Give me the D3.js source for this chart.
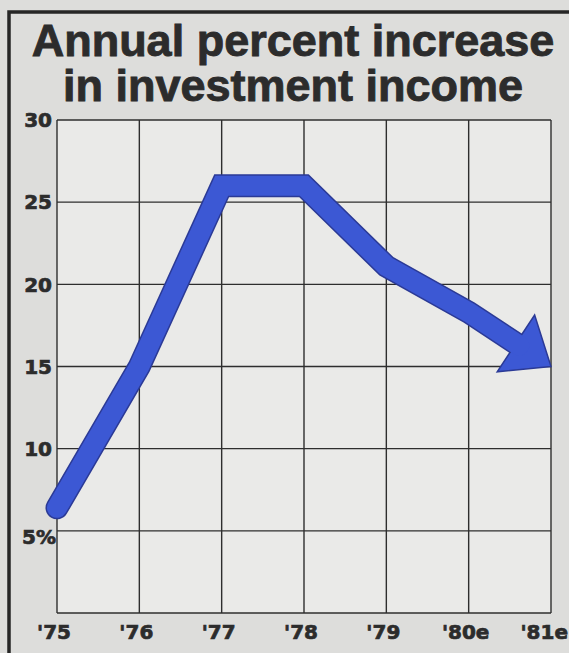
<!DOCTYPE html>
<html>
<head>
<meta charset="utf-8">
<script src="https://cdn.jsdelivr.net/npm/d3@7"></script>
<style>
  body { margin: 0; background: #dddddb; }
  svg { display: block; }
</style>
</head>
<body>
<svg id="chart" width="569" height="653"></svg>
<script>
// data
var years = ["'75", "'76", "'77", "'78", "'79", "'80e", "'81e"];
var increase = [6.4, 15, 26, 26, 21.1, 18.3, 15];
var yTicks = [5, 10, 15, 20, 25, 30];
var yTickLabels = ["5%", "10", "15", "20", "25", "30"];
var titleLines = ["Annual percent increase", "in investment income"];

var width = 569, height = 653;
var plot = { left: 57, right: 551, top: 120, bottom: 613 };

var svg = d3.select("#chart");

var x = d3.scalePoint()
  .domain(years)
  .range([plot.left, plot.right]);

var y = d3.scaleLinear()
  .domain([0, 30])
  .range([plot.bottom, plot.top]);

// panel border (top + left)
svg.append("rect")
  .attr("x", 0).attr("y", 0)
  .attr("width", width).attr("height", height)
  .attr("fill", "#dddddb");
svg.append("path")
  .attr("d", "M9," + height + "V12H" + width)
  .attr("fill", "none")
  .attr("stroke", "#262626")
  .attr("stroke-width", 3.5);

// title
svg.append("g")
  .selectAll("text")
  .data(titleLines)
  .enter()
  .append("text")
  .attr("x", 293)
  .attr("y", (d, i) => 56 + i * 45)
  .attr("text-anchor", "middle")
  .style("font-family", "'Liberation Sans', Arial, sans-serif")
  .style("font-weight", "bold")
  .style("font-size", "45px")
  .style("fill", "#2c2c2c")
  .style("stroke", "#2c2c2c")
  .style("stroke-width", 0.9)
  .text(d => d);

// plot background
svg.append("rect")
  .attr("x", plot.left).attr("y", plot.top)
  .attr("width", plot.right - plot.left)
  .attr("height", plot.bottom - plot.top)
  .attr("fill", "#eaeae8");

// grid
var grid = svg.append("g")
  .attr("stroke", "#2e2e2e")
  .attr("stroke-width", 1.4);

grid.selectAll("line.v")
  .data(years)
  .enter()
  .append("line")
  .attr("class", "v")
  .attr("x1", d => x(d)).attr("x2", d => x(d))
  .attr("y1", plot.top).attr("y2", plot.bottom);

grid.selectAll("line.h")
  .data([0].concat(yTicks))
  .enter()
  .append("line")
  .attr("class", "h")
  .attr("x1", plot.left).attr("x2", plot.right)
  .attr("y1", d => y(d)).attr("y2", d => y(d));

// y tick labels
svg.append("g")
  .selectAll("text")
  .data(yTicks)
  .enter()
  .append("text")
  .attr("x", (d, i) => i === 0 ? plot.left - 1 : plot.left - 5)
  .attr("y", (d, i) => y(d) + (i === 0 ? 6 : 0))
  .attr("dy", "0.36em")
  .attr("text-anchor", "end")
  .style("font-family", "'DejaVu Sans', sans-serif")
  .style("font-weight", "bold")
  .style("font-size", "20px")
  .style("fill", "#2c2c2c")
  .style("stroke", "#2c2c2c")
  .style("stroke-width", 0.7)
  .text((d, i) => yTickLabels[i]);

// x tick labels
svg.append("g")
  .selectAll("text")
  .data(years)
  .enter()
  .append("text")
  .attr("x", (d, i) => i === years.length - 1 ? width - 1 : x(d) - 3)
  .attr("y", 639)
  .attr("text-anchor", (d, i) => i === years.length - 1 ? "end" : "middle")
  .style("font-family", "'DejaVu Sans', sans-serif")
  .style("font-weight", "bold")
  .style("font-size", "20px")
  .style("fill", "#2c2c2c")
  .style("stroke", "#2c2c2c")
  .style("stroke-width", 0.7)
  .text(d => d);

// arrow line
var pts = years.map((d, i) => [x(d), y(increase[i])]);
var n = pts.length;
var tip = pts[n - 1], prev = pts[n - 2];
var dx = tip[0] - prev[0], dy = tip[1] - prev[1];
var len = Math.sqrt(dx * dx + dy * dy);
var ux = dx / len, uy = dy / len;
var headLen = 42, headHalf = 34;
var base = [tip[0] - ux * headLen, tip[1] - uy * headLen];
var shaft = pts.slice(0, n - 1).concat([[base[0] + ux * 4, base[1] + uy * 4]]);

var line = d3.line();

svg.append("path")
  .attr("d", line(shaft))
  .attr("fill", "none")
  .attr("stroke", "#2b3a96")
  .attr("stroke-width", 23)
  .attr("stroke-linejoin", "miter")
  .attr("stroke-linecap", "round");

var head = [
  tip,
  [base[0] - uy * headHalf, base[1] + ux * headHalf],
  [base[0] + uy * headHalf, base[1] - ux * headHalf]
];
svg.append("path")
  .attr("d", line(head) + "Z")
  .attr("fill", "#3c58d4")
  .attr("stroke", "#2b3a96")
  .attr("stroke-width", 1.5)
  .attr("stroke-linejoin", "miter");

svg.append("path")
  .attr("d", line(shaft))
  .attr("fill", "none")
  .attr("stroke", "#3c58d4")
  .attr("stroke-width", 20)
  .attr("stroke-linejoin", "miter")
  .attr("stroke-linecap", "round");
</script>
</body>
</html>
